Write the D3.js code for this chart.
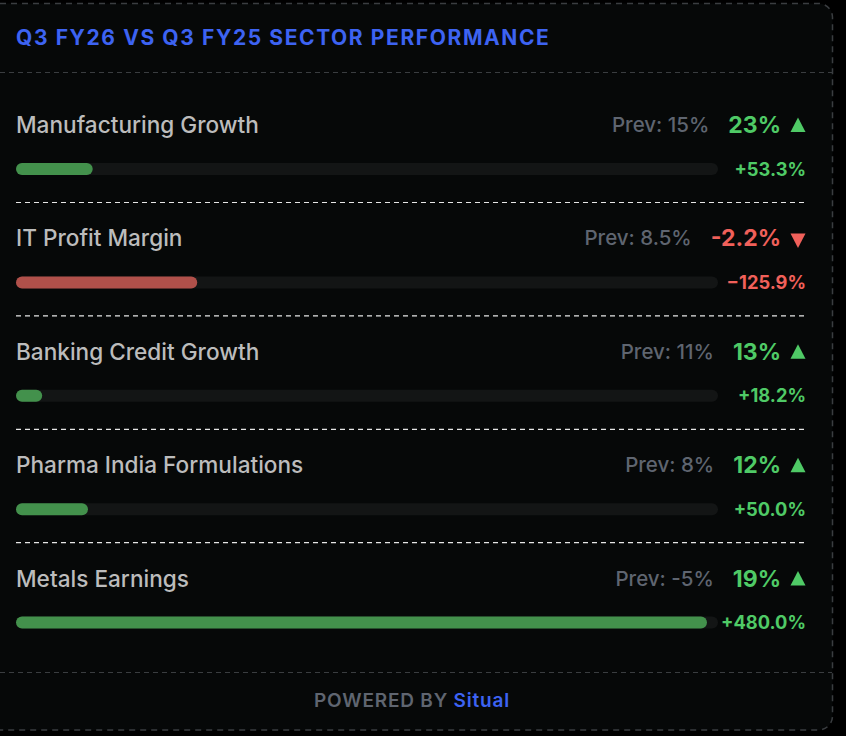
<!DOCTYPE html>
<html>
<head>
<meta charset="utf-8">
<script src="https://cdn.jsdelivr.net/npm/d3@7"></script>
<style>
  html, body { margin: 0; padding: 0; background: #000; }
  svg { display: block; font-family: Inter, "Noto Sans", sans-serif; }
</style>
</head>
<body>
<svg id="canvas"></svg>
<script>
// chart data
const title = 'Q3 FY26 VS Q3 FY25 SECTOR PERFORMANCE'
const sectors = ['Manufacturing Growth', 'IT Profit Margin', 'Banking Credit Growth', 'Pharma India Formulations', 'Metals Earnings']
const prevValues = ['15%', '8.5%', '11%', '8%', '-5%']
const currValues = ['23%', '-2.2%', '13%', '12%', '19%']
const changes = [53.3, -125.9, 18.2, 50.0, 480.0]
const footerText = 'POWERED BY'
const brand = 'Situal'

const W = 846, H = 736
const svg = d3.select('#canvas').attr('width', W).attr('height', H)

const C = {
    bg: '#060808',
    border: '#3a3d40',
    title: '#3d63f2',
    label: '#bcbcbc',
    prev: '#5f6570',
    up: '#4fca66',
    down: '#f0605a',
    barUp: '#43914c',
    barDown: '#b0504a',
    track: '#131515',
    sep: '#e6e6e6'
}

const left = 16, right = 806
const trackEnd = 718

// card
svg.append('rect').attr('width', W).attr('height', H).attr('fill', '#000')
svg.append('rect')
    .attr('x', -14).attr('y', 3.5)
    .attr('width', 846.5).attr('height', 726.5)
    .attr('rx', 14)
    .attr('fill', C.bg)
    .attr('stroke', C.border)
    .attr('stroke-width', 1.5)
    .attr('stroke-dasharray', '6,5')

svg.append('text')
    .attr('x', left).attr('y', 44.5)
    .attr('fill', C.title)
    .attr('font-size', 21)
    .attr('font-weight', 700)
    .attr('letter-spacing', 1.6)
    .text(title)

// header / footer separators
;[72.5, 672.5].forEach(y => {
    svg.append('line')
        .attr('x1', 0).attr('x2', 832).attr('y1', y).attr('y2', y)
        .attr('stroke', C.border).attr('stroke-width', 1.2)
        .attr('stroke-dasharray', '5,4')
})

// rows
const rowY = d3.scaleBand().domain(sectors).range([89, 89 + 113.4 * sectors.length])
const barX = d3.scaleLinear().domain([0, 480]).range([0, 691])

const rows = svg.selectAll('g.row')
    .data(sectors.map((s, i) => ({ name: s, prev: prevValues[i], curr: currValues[i], change: changes[i], i })))
    .enter().append('g')
    .attr('class', 'row')
    .attr('transform', d => `translate(0,${rowY(d.name)})`)

rows.append('text')
    .attr('x', left).attr('y', 44)
    .attr('fill', C.label)
    .attr('font-size', 22.6)
    .attr('font-weight', 500)
    .text(d => d.name)

// triangle marker
rows.append('path')
    .attr('transform', d => `translate(798,${d.change >= 0 ? 36 : 38})`)
    .attr('d', d => d.change >= 0 ? 'M0,-7.5L7.5,7L-7.5,7Z' : 'M0,7.5L7.5,-7L-7.5,-7Z')
    .attr('fill', d => d.change >= 0 ? C.up : C.down)

const valueText = rows.append('text')
    .attr('x', 781).attr('y', 44)
    .attr('text-anchor', 'end')
    .attr('fill', d => d.change >= 0 ? C.up : C.down)
    .attr('font-size', 23)
    .attr('font-weight', 700)
    .text(d => d.curr)

// prev label sits a fixed gap left of the current value
rows.each(function (d, i) {
    const w = valueText.nodes()[i].getComputedTextLength()
    d3.select(this).append('text')
        .attr('x', 781 - w - 19).attr('y', 43)
        .attr('text-anchor', 'end')
        .attr('fill', C.prev)
        .attr('font-size', 20.5)
        .attr('font-weight', 500)
        .text('Prev: ' + d.prev)
})

// bar track + bar
rows.append('rect')
    .attr('x', left).attr('y', 74)
    .attr('width', trackEnd - left).attr('height', 12)
    .attr('rx', 6)
    .attr('fill', C.track)

rows.append('rect')
    .attr('x', left).attr('y', 74)
    .attr('width', d => barX(Math.abs(d.change)))
    .attr('height', 12)
    .attr('rx', 6)
    .attr('fill', d => d.change >= 0 ? C.barUp : C.barDown)

rows.append('text')
    .attr('x', right).attr('y', 86.5)
    .attr('text-anchor', 'end')
    .attr('fill', d => d.change >= 0 ? C.up : C.down)
    .attr('font-size', 18.3)
    .attr('font-weight', 700)
    .text(d => (d.change >= 0 ? '+' : '\u2212') + Math.abs(d.change).toFixed(1) + '%')

rows.filter(d => d.i < sectors.length - 1)
    .append('line')
    .attr('x1', left).attr('x2', right)
    .attr('y1', 113.5).attr('y2', 113.5)
    .attr('stroke', C.sep).attr('stroke-width', 1.2)
    .attr('stroke-dasharray', '5,4')

// footer
const ft = svg.append('text')
    .attr('x', 412).attr('y', 707)
    .attr('text-anchor', 'middle')
    .attr('font-size', 19)
    .attr('font-weight', 600)
    .attr('letter-spacing', 0.8)
ft.append('tspan').attr('fill', C.prev).text(footerText + ' ')
ft.append('tspan').attr('fill', C.title).text(brand)
</script>
</body>
</html>
